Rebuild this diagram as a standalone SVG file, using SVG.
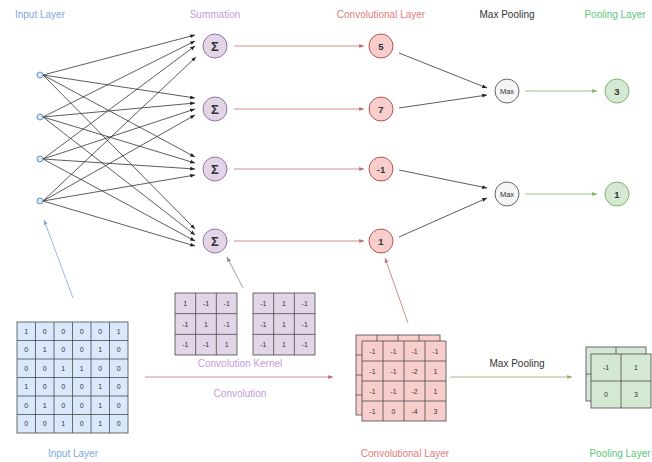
<svg xmlns="http://www.w3.org/2000/svg" width="652" height="462" viewBox="0 0 652 462">
<style>
text{font-family:"Liberation Sans",Arial,sans-serif;text-anchor:middle;dominant-baseline:central}
.lbl{font-size:10px}
.cb{fill:#dae8fc;stroke:#4a4a4a;stroke-width:0.8}
.cp{fill:#e1d5e7;stroke:#4a4a4a;stroke-width:0.8}
.cr{fill:#f8cecc;stroke:#4a4a4a;stroke-width:0.8}
.cg{fill:#d5e8d4;stroke:#4a4a4a;stroke-width:0.8}
.g{font-size:7px;fill:#333}
.in{fill:#dae8fc;stroke:#6c8ebf;stroke-width:1}
.sum{fill:#e1d5e7;stroke:#9673a6;stroke-width:1}
.cv{fill:#f8cecc;stroke:#b85450;stroke-width:1}
.mx{fill:#f5f5f5;stroke:#666;stroke-width:1}
.pl{fill:#d5e8d4;stroke:#82b366;stroke-width:1}
.nt{font-size:9.5px;font-weight:bold;fill:#333}
.sg{font-size:13px;font-weight:bold;fill:#333}
.k{fill:none;stroke:#333;stroke-width:0.8}
.kr{fill:none;stroke:#c07070;stroke-width:0.8}
.kg{fill:none;stroke:#82b366;stroke-width:0.8}
.kb{fill:none;stroke:#7ea6e0;stroke-width:0.8}
.kp{fill:none;stroke:#888;stroke-width:0.8}
</style>
<defs>
<marker id="a" viewBox="0 0 10 10" refX="10" refY="5" markerWidth="6" markerHeight="6" orient="auto"><path d="M0,1 L10,5 L0,9 Z" fill="#222"/></marker>
<marker id="ar" viewBox="0 0 10 10" refX="10" refY="5" markerWidth="6" markerHeight="6" orient="auto"><path d="M0,1 L10,5 L0,9 Z" fill="#c07070"/></marker>
<marker id="ag" viewBox="0 0 10 10" refX="10" refY="5" markerWidth="6" markerHeight="6" orient="auto"><path d="M0,1 L10,5 L0,9 Z" fill="#82b366"/></marker>
<marker id="ab" viewBox="0 0 10 10" refX="10" refY="5" markerWidth="6" markerHeight="6" orient="auto"><path d="M0,1 L10,5 L0,9 Z" fill="#7ea6e0"/></marker>
<marker id="ap" viewBox="0 0 10 10" refX="10" refY="5" markerWidth="6" markerHeight="6" orient="auto"><path d="M0,1 L10,5 L0,9 Z" fill="#888"/></marker>
</defs>

<g id="labels">
<text class="lbl" x="40" y="14" fill="#7ea6e0">Input Layer</text>
<text class="lbl" x="215" y="14" fill="#c39bdc">Summation</text>
<text class="lbl" x="381" y="14" fill="#e07b7b">Convolutional Layer</text>
<text class="lbl" x="507" y="14" fill="#333">Max Pooling</text>
<text class="lbl" x="615" y="14" fill="#5cc87a">Pooling Layer</text>
</g>

<g id="connectors">
<g class="k" marker-end="url(#a)">
<line x1="43" y1="75" x2="195" y2="35"/>
<line x1="43" y1="75" x2="195" y2="98"/>
<line x1="43" y1="75" x2="195" y2="157"/>
<line x1="43" y1="75" x2="195" y2="229"/>
<line x1="43" y1="117" x2="195" y2="41"/>
<line x1="43" y1="117" x2="195" y2="103"/>
<line x1="43" y1="117" x2="195" y2="163"/>
<line x1="43" y1="117" x2="195" y2="235"/>
<line x1="43" y1="159" x2="195" y2="46"/>
<line x1="43" y1="159" x2="195" y2="109"/>
<line x1="43" y1="159" x2="195" y2="169"/>
<line x1="43" y1="159" x2="195" y2="241"/>
<line x1="43" y1="201" x2="196" y2="57"/>
<line x1="43" y1="201" x2="195" y2="115"/>
<line x1="43" y1="201" x2="195" y2="175"/>
<line x1="43" y1="201" x2="195" y2="246"/>
<line x1="399" y1="53" x2="487" y2="88"/>
<line x1="399" y1="108" x2="487" y2="95"/>
<line x1="399" y1="170" x2="487" y2="188"/>
<line x1="399" y1="237" x2="487" y2="198"/>
</g>
<g class="kr" marker-end="url(#ar)">
<line x1="234" y1="46" x2="364" y2="46"/>
<line x1="234" y1="109" x2="364" y2="109"/>
<line x1="234" y1="169" x2="364" y2="169"/>
<line x1="234" y1="241" x2="364" y2="241"/>
<line x1="145" y1="377" x2="333" y2="377"/>
<line x1="408" y1="323" x2="385" y2="258"/>
</g>
<g class="kg" marker-end="url(#ag)">
<line x1="525" y1="91" x2="597" y2="91"/>
<line x1="525" y1="194" x2="597" y2="194"/>
<line x1="450" y1="377" x2="572" y2="377"/>
</g>
<line class="kb" x1="73" y1="298" x2="44" y2="220" marker-end="url(#ab)"/>
<line class="kp" x1="243" y1="288" x2="227" y2="257" marker-end="url(#ap)"/>
</g>

<g id="input-nodes">
<circle class="in" cx="40" cy="75" r="3"/>
<circle class="in" cx="40" cy="117" r="3"/>
<circle class="in" cx="40" cy="159" r="3"/>
<circle class="in" cx="40" cy="201" r="3"/>
</g>

<g id="sum1"><circle class="sum" cx="215" cy="46" r="12"/><text class="sg" x="215" y="46">Σ</text></g>
<g id="sum2"><circle class="sum" cx="215" cy="109" r="12"/><text class="sg" x="215" y="109">Σ</text></g>
<g id="sum3"><circle class="sum" cx="215" cy="169" r="12"/><text class="sg" x="215" y="169">Σ</text></g>
<g id="sum4"><circle class="sum" cx="215" cy="241" r="12"/><text class="sg" x="215" y="241">Σ</text></g>

<g id="conv1"><circle class="cv" cx="381" cy="46" r="12"/><text class="nt" x="381" y="46">5</text></g>
<g id="conv2"><circle class="cv" cx="381" cy="109" r="12"/><text class="nt" x="381" y="109">7</text></g>
<g id="conv3"><circle class="cv" cx="381" cy="169" r="12"/><text class="nt" x="381" y="169">-1</text></g>
<g id="conv4"><circle class="cv" cx="381" cy="241" r="12"/><text class="nt" x="381" y="241">1</text></g>

<g id="max1"><circle class="mx" cx="507" cy="91" r="12"/><text x="507" y="91" font-size="7.5" fill="#333">Max</text></g>
<g id="max2"><circle class="mx" cx="507" cy="194" r="12"/><text x="507" y="194" font-size="7.5" fill="#333">Max</text></g>

<g id="pool1"><circle class="pl" cx="617" cy="91" r="12"/><text class="nt" x="617" y="91">3</text></g>
<g id="pool2"><circle class="pl" cx="617" cy="194" r="12"/><text class="nt" x="617" y="194">1</text></g>

<g id="input-grid">
<rect class="cb" x="17" y="322" width="111" height="111"/>
<path d="M35.5,322V433M54,322V433M72.5,322V433M91,322V433M109.5,322V433M17,340.5H128M17,359H128M17,377.5H128M17,396H128M17,414.5H128" stroke="#4a4a4a" stroke-width="0.8"/>
<g class="g">
<text x="26.25" y="331.25">1</text><text x="44.75" y="331.25">0</text><text x="63.25" y="331.25">0</text><text x="81.75" y="331.25">0</text><text x="100.25" y="331.25">0</text><text x="118.75" y="331.25">1</text>
<text x="26.25" y="349.75">0</text><text x="44.75" y="349.75">1</text><text x="63.25" y="349.75">0</text><text x="81.75" y="349.75">0</text><text x="100.25" y="349.75">1</text><text x="118.75" y="349.75">0</text>
<text x="26.25" y="368.25">0</text><text x="44.75" y="368.25">0</text><text x="63.25" y="368.25">1</text><text x="81.75" y="368.25">1</text><text x="100.25" y="368.25">0</text><text x="118.75" y="368.25">0</text>
<text x="26.25" y="386.75">1</text><text x="44.75" y="386.75">0</text><text x="63.25" y="386.75">0</text><text x="81.75" y="386.75">0</text><text x="100.25" y="386.75">1</text><text x="118.75" y="386.75">0</text>
<text x="26.25" y="405.25">0</text><text x="44.75" y="405.25">1</text><text x="63.25" y="405.25">0</text><text x="81.75" y="405.25">0</text><text x="100.25" y="405.25">1</text><text x="118.75" y="405.25">0</text>
<text x="26.25" y="423.75">0</text><text x="44.75" y="423.75">0</text><text x="63.25" y="423.75">1</text><text x="81.75" y="423.75">0</text><text x="100.25" y="423.75">1</text><text x="118.75" y="423.75">0</text>
</g>
<text class="lbl" x="73" y="453" fill="#7ea6e0">Input Layer</text>
</g>

<g id="kernel1">
<rect class="cp" x="175" y="293" width="62" height="62"/>
<path d="M195.67,293V355M216.33,293V355M175,313.67H237M175,334.33H237" stroke="#4a4a4a" stroke-width="0.8"/>
<g class="g">
<text x="185.3" y="303.3">1</text><text x="206" y="303.3">-1</text><text x="226.7" y="303.3">-1</text>
<text x="185.3" y="324">-1</text><text x="206" y="324">1</text><text x="226.7" y="324">-1</text>
<text x="185.3" y="344.7">-1</text><text x="206" y="344.7">-1</text><text x="226.7" y="344.7">1</text>
</g>
</g>
<g id="kernel2">
<rect class="cp" x="253" y="293" width="62" height="62"/>
<path d="M273.67,293V355M294.33,293V355M253,313.67H315M253,334.33H315" stroke="#4a4a4a" stroke-width="0.8"/>
<g class="g">
<text x="263.3" y="303.3">-1</text><text x="284" y="303.3">1</text><text x="304.7" y="303.3">-1</text>
<text x="263.3" y="324">-1</text><text x="284" y="324">1</text><text x="304.7" y="324">-1</text>
<text x="263.3" y="344.7">-1</text><text x="284" y="344.7">1</text><text x="304.7" y="344.7">-1</text>
</g>
</g>
<g id="kernel-labels">
<text class="lbl" x="240" y="363" fill="#c39bdc">Convolution Kernel</text>
<text class="lbl" x="240" y="393" fill="#c39bdc">Convolution</text>
</g>

<g id="conv-grid">
<rect class="cr" x="356" y="335" width="84" height="80"/>
<path d="M377,335V415M398,335V415M419,335V415M356,355H440M356,375H440M356,395H440" stroke="#4a4a4a" stroke-width="0.8"/>
<rect class="cr" x="362" y="341" width="84" height="80"/>
<path d="M383,341V421M404,341V421M425,341V421M362,361H446M362,381H446M362,401H446" stroke="#4a4a4a" stroke-width="0.8"/>
<g class="g">
<text x="372.5" y="351">-1</text><text x="393.5" y="351">-1</text><text x="414.5" y="351">-1</text><text x="435.5" y="351">-1</text>
<text x="372.5" y="371">-1</text><text x="393.5" y="371">-1</text><text x="414.5" y="371">-2</text><text x="435.5" y="371">1</text>
<text x="372.5" y="391">-1</text><text x="393.5" y="391">-1</text><text x="414.5" y="391">-2</text><text x="435.5" y="391">1</text>
<text x="372.5" y="411">-1</text><text x="393.5" y="411">0</text><text x="414.5" y="411">-4</text><text x="435.5" y="411">3</text>
</g>
<text class="lbl" x="405" y="453" fill="#e07b7b">Convolutional Layer</text>
</g>

<text class="lbl" x="517" y="363" fill="#333">Max Pooling</text>

<g id="pool-grid">
<rect class="cg" x="586" y="347" width="60" height="54"/>
<path d="M616,347V401M586,374H646" stroke="#4a4a4a" stroke-width="0.8"/>
<rect class="cg" x="591" y="354" width="60" height="54"/>
<path d="M621,354V408M591,381H651" stroke="#4a4a4a" stroke-width="0.8"/>
<g class="g">
<text x="606" y="367.5">-1</text><text x="636" y="367.5">1</text>
<text x="606" y="394.5">0</text><text x="636" y="394.5">3</text>
</g>
<text class="lbl" x="620" y="453" fill="#5cc87a">Pooling Layer</text>
</g>
</svg>
